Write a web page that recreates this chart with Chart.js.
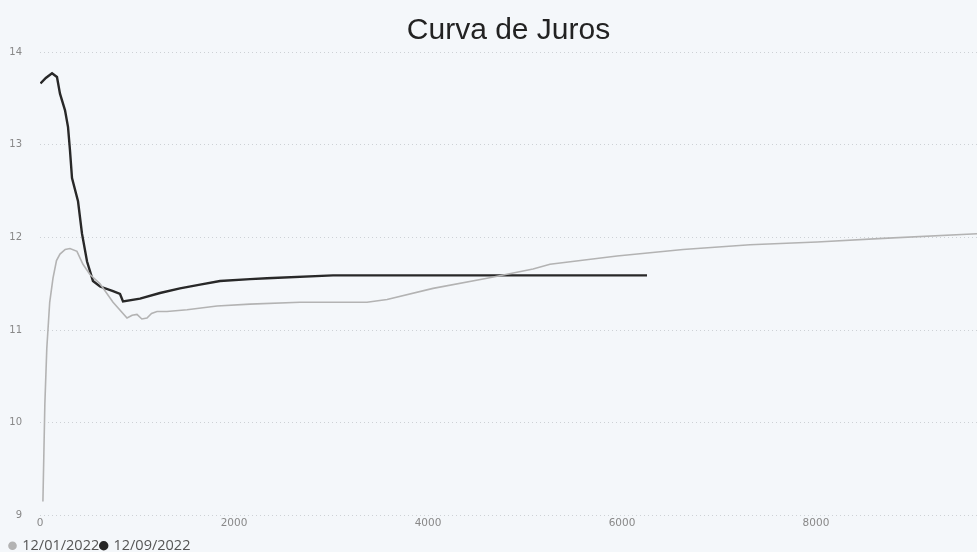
<!DOCTYPE html>
<html>
<head>
<meta charset="utf-8">
<script src="https://cdn.jsdelivr.net/npm/chart.js@4/dist/chart.umd.min.js"></script>
<style>
    html, body { margin: 0; padding: 0; background: #f4f7fa; overflow: hidden; }
    #wrap { width: 977px; height: 552px; position: relative; }
</style>
</head>
<body>
<div id="wrap"><canvas id="curva"></canvas></div>
<script>
// Curva de Juros - prazo em dias x taxa (%)
let seriesNames = ["12/01/2022", "12/09/2022"];

let grayDays = [30, 50, 70, 100, 134, 170, 206, 260, 309, 381, 443, 515, 619, 753, 897, 950, 1000, 1050, 1103, 1150, 1206, 1309, 1516, 1825, 2165, 2680, 3371, 3578, 4052, 4609, 5083, 5258, 5949, 6629, 7320, 8011, 8691, 9660];
let grayRates = [9.15, 10.2, 10.8, 11.3, 11.56, 11.75, 11.82, 11.87, 11.88, 11.85, 11.71, 11.6, 11.5, 11.3, 11.13, 11.16, 11.17, 11.12, 11.13, 11.18, 11.2, 11.2, 11.22, 11.26, 11.28, 11.3, 11.3, 11.33, 11.45, 11.56, 11.66, 11.71, 11.8, 11.87, 11.92, 11.95, 11.99, 12.04];

let blackDays = [5, 60, 124, 175, 206, 258, 289, 309, 330, 392, 433, 485, 546, 619, 753, 825, 856, 1031, 1237, 1443, 1650, 1856, 2165, 2340, 3021, 6258];
let blackRates = [13.66, 13.72, 13.77, 13.73, 13.55, 13.37, 13.19, 12.94, 12.64, 12.39, 12.04, 11.74, 11.53, 11.47, 11.42, 11.39, 11.31, 11.34, 11.4, 11.45, 11.49, 11.53, 11.55, 11.56, 11.59, 11.59];

let xTicks = [0, 2000, 4000, 6000, 8000];

function toPoints(days, rates) {
    let pts = [];
    for (let i = 0; i < days.length; i++) {
        pts.push({ x: days[i], y: rates[i] });
    }
    return pts;
}

let chart = new Chart(document.getElementById("curva"), {
    type: 'line',
    data: {
        datasets: [
            {
                label: seriesNames[0],
                data: toPoints(grayDays, grayRates),
                borderColor: "#b3b3b3",
                backgroundColor: "#b3b3b3",
                borderWidth: 1.6,
                pointRadius: 0,
                fill: false
            },
            {
                label: seriesNames[1],
                data: toPoints(blackDays, blackRates),
                borderColor: "#282828",
                backgroundColor: "#282828",
                borderWidth: 2.4,
                pointRadius: 0,
                fill: false
            }
        ]
    },
    options: {
        responsive: true,
        maintainAspectRatio: false,
        animation: false,
        layout: { padding: { left: 8, right: 0, top: 0, bottom: -11 } },
        plugins: {
            title: {
                display: true,
                text: "Curva de Juros",
                fullSize: false,
                color: "#222",
                font: { family: "'Liberation Sans', Arial, sans-serif", size: 30, weight: 'normal' },
                padding: { top: 13, bottom: 3 }
            },
            legend: {
                position: 'bottom',
                align: 'start',
                labels: {
                    usePointStyle: true,
                    pointStyle: 'circle',
                    boxWidth: 5,
                    boxHeight: 5,
                    padding: 2,
                    color: "#555",
                    font: { family: "'Open Sans', sans-serif", size: 14.5 }
                }
            },
            tooltip: { enabled: false }
        },
        scales: {
            x: {
                type: 'linear',
                min: 0,
                max: 9660,
                afterBuildTicks: function (scale) {
                    scale.ticks = xTicks.map(function (v) { return { value: v }; });
                },
                afterFit: function (scale) { scale.height = 21; },
                grid: { display: false, drawTicks: false },
                border: { display: false },
                ticks: {
                    color: "#888",
                    padding: 1,
                    maxRotation: 0,
                    callback: function (v) { return String(v); },
                    font: { family: "'DejaVu Sans', sans-serif", size: 10.5 }
                }
            },
            y: {
                min: 9,
                max: 14,
                afterFit: function (scale) { scale.width = 32; },
                grid: { color: "#cdd1d5", lineWidth: 1, drawTicks: false },
                border: { display: false, dash: [1, 3] },
                ticks: {
                    stepSize: 1,
                    color: "#888",
                    padding: 18,
                    font: { family: "'DejaVu Sans', sans-serif", size: 10 }
                }
            }
        }
    }
});
</script>
</body>
</html>
